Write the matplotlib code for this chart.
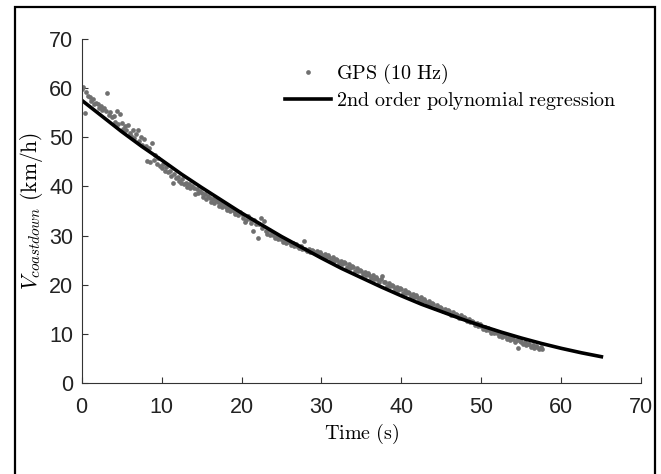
"""Coastdown speed vs time: GPS samples and 2nd order polynomial fit."""
import matplotlib
matplotlib.use('Agg')
import matplotlib.pyplot as plt
import numpy as np
from matplotlib.patches import Rectangle

plt.rcParams['mathtext.fontset'] = 'cm'
plt.rcParams['font.family'] = ['Liberation Sans', 'DejaVu Sans']

# GPS speed samples (km/h), read every 0.2 s, one row per second
gps_rows = [
    [59.8, 60.3, 55.0, 59.2, 58.4],
    [58.2, 57.4, 57.9, 56.8, 57.1],
    [56.8, 55.9, 56.4, 55.5, 55.9],
    [55.4, 59.0, 54.6, 55.1, 54.2],
    [54.3, 53.1, 55.3, 52.7, 54.8],
    [52.9, 51.8, 52.4, 51.5, 52.6],
    [51.0, 50.3, 51.6, 49.8, 50.7],
    [51.5, 49.2, 50.1, 48.4, 49.6],
    [48.3, 45.1, 47.9, 44.9, 48.9],
    [45.3, 46.4, 44.6, 45.8, 44.2],
    [43.8, 44.6, 43.2, 44.0, 42.9],
    [43.1, 42.2, 40.8, 42.6, 41.7],
    [41.9, 41.2, 40.7, 41.5, 40.6],
    [40.8, 39.9, 40.5, 39.6, 40.1],
    [39.6, 38.5, 39.4, 38.7, 39.0],
    [38.6, 37.8, 38.4, 37.4, 38.0],
    [37.7, 36.9, 37.5, 36.6, 37.2],
    [36.8, 36.1, 36.7, 35.8, 36.3],
    [35.9, 35.2, 35.8, 34.9, 35.5],
    [35.0, 34.4, 34.9, 34.1, 34.7],
    [34.3, 33.5, 32.8, 33.2, 33.9],
    [33.4, 32.6, 30.9, 33.1, 32.4],
    [29.4, 32.3, 33.5, 31.5, 32.9],
    [31.0, 30.4, 31.2, 30.2, 30.7],
    [30.1, 29.5, 30.0, 29.3, 29.8],
    [29.2, 28.7, 29.1, 28.5, 28.9],
    [28.6, 28.1, 28.5, 27.9, 28.2],
    [27.9, 27.4, 27.8, 27.2, 28.8],
    [27.2, 26.9, 27.3, 26.7, 27.0],
    [26.8, 26.4, 26.9, 26.2, 26.6],
    [26.3, 25.8, 26.2, 25.6, 26.0],
    [25.7, 25.1, 25.6, 24.9, 25.3],
    [25.0, 24.4, 24.9, 24.2, 24.6],
    [24.3, 23.6, 24.2, 23.4, 23.8],
    [23.5, 22.8, 23.4, 22.7, 23.0],
    [22.7, 22.1, 22.6, 21.9, 22.3],
    [22.0, 21.3, 21.9, 21.2, 21.5],
    [21.2, 20.6, 21.1, 21.8, 20.5],
    [20.5, 19.8, 20.4, 19.7, 20.0],
    [19.7, 19.0, 19.6, 18.9, 19.3],
    [19.0, 18.3, 18.9, 18.2, 18.5],
    [18.3, 17.6, 18.1, 17.5, 17.8],
    [17.5, 16.8, 17.4, 16.7, 17.0],
    [16.7, 16.1, 16.6, 15.9, 16.2],
    [16.0, 15.3, 15.8, 15.2, 15.5],
    [15.3, 14.6, 15.1, 14.5, 14.8],
    [14.6, 13.9, 14.4, 13.8, 14.1],
    [13.9, 13.2, 13.7, 13.1, 13.4],
    [13.1, 12.5, 12.9, 12.3, 12.6],
    [12.3, 11.7, 12.1, 11.5, 11.9],
    [11.5, 10.9, 11.4, 10.8, 11.1],
    [10.8, 10.2, 10.7, 10.1, 10.4],
    [10.1, 9.5, 10.0, 9.4, 9.7],
    [9.5, 8.9, 9.4, 8.7, 9.1],
    [8.9, 8.3, 8.7, 7.0, 8.5],
    [8.3, 7.8, 8.2, 7.6, 7.9],
    [7.8, 7.3, 7.7, 7.1, 7.4],
    [7.3, 6.9, 7.2, 6.8],
]
gps_dt = 0.2

# fitted curve, read every 2.5 s
fit_t = [0, 2.5, 5, 7.5, 10, 12.5, 15, 17.5, 20, 22.5, 25, 27.5, 30, 32.5,
         35, 37.5, 40, 42.5, 45, 47.5, 50, 52.5, 55, 57.5, 60, 62.5, 65]
fit_v = [57.6, 54.4, 51.2, 48.2, 45.4, 42.5, 39.8, 37.2, 34.6, 32.2, 29.8, 27.6, 25.4, 23.3,
         21.4, 19.5, 17.7, 16.0, 14.5, 13.0, 11.6, 10.3, 9.1, 8.0, 7.0, 6.1, 5.3]

xticks = [0, 10, 20, 30, 40, 50, 60, 70]
yticks = [0, 10, 20, 30, 40, 50, 60, 70]

gps_v = np.array([v for row in gps_rows for v in row])
gps_t = np.arange(len(gps_v)) * gps_dt

fig = plt.figure(figsize=(6.61, 4.74), dpi=100)
ax = fig.add_axes([0.1234, 0.1926, 0.8469, 0.7245])

ax.plot(gps_t, gps_v, 'o', color='#707070', markersize=3.4, markeredgewidth=0,
        label=r'$\mathrm{GPS\ (10\ Hz)}$')
ax.plot(fit_t, fit_v, '-', color='black', linewidth=2.6,
        label=r'$\mathrm{2nd\ order\ polynomial\ regression}$')

ax.set_xlim(0, 70)
ax.set_ylim(0, 70)
ax.set_xticks(xticks)
ax.set_yticks(yticks)
ax.spines['top'].set_visible(False)
ax.spines['right'].set_visible(False)
for s in ('left', 'bottom'):
    ax.spines[s].set_color('#333333')
    ax.spines[s].set_linewidth(0.8)
ax.tick_params(direction='in', length=4, width=0.8, colors='#333333',
               labelcolor='#222222', labelsize=15.5)
ax.tick_params(axis='x', pad=10)
ax.tick_params(axis='y', pad=6)

ax.set_xlabel(r'$\mathrm{Time\ (s)}$', fontsize=14.5, labelpad=3)
ax.set_ylabel(r'$V_{coastdown}\ \mathrm{(km/h)}$', fontsize=15.5, labelpad=3)

ax.legend(loc='upper left', bbox_to_anchor=(0.363, 0.935), frameon=False,
          fontsize=14.5, numpoints=1, handlelength=2.3, handletextpad=0.25,
          borderaxespad=0, borderpad=0, labelspacing=0.2)

# outer frame around the figure
fig.patches.append(Rectangle((0.0224, -0.1), 0.9679, 1.0859, transform=fig.transFigure,
                             fill=False, edgecolor='black', linewidth=1.6))

fig.savefig('out.png', dpi=100)
